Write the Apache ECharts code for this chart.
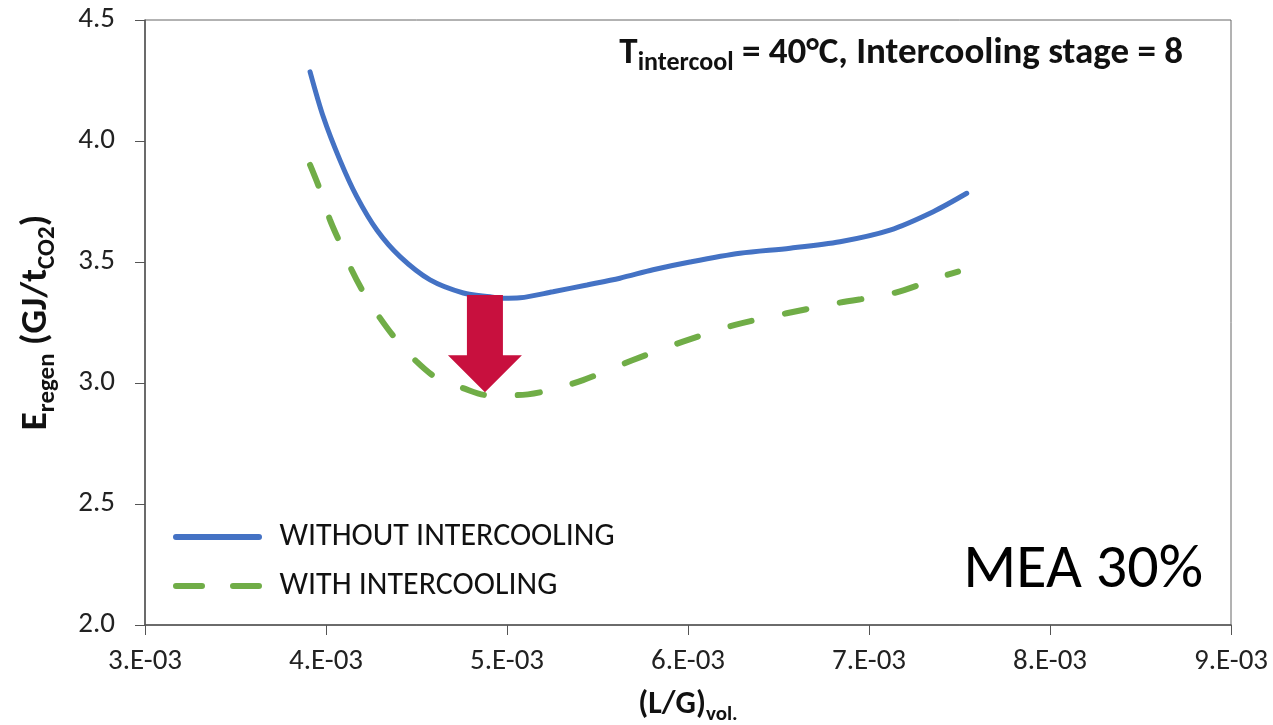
<!doctype html>
<html lang="en">
<head>
    <meta charset="UTF-8">
    <title>MEA 30% - Eregen vs L/G</title>
    <script type="text/javascript" src="https://cdn.jsdelivr.net/npm/echarts@6/dist/echarts.min.js"></script>
    <style>
        html, body { margin: 0; padding: 0; background: #fff; }
        #chart { width: 1273px; height: 725px; }
    </style>
</head>
<body>
<div id="chart"></div>
<script>
    // (L/G)vol. 和 Eregen 读数
    var withoutX = [3.912e-3, 3.985e-3, 4.077e-3, 4.170e-3, 4.281e-3, 4.409e-3, 4.575e-3, 4.759e-3, 4.906e-3, 4.978e-3,
        5.072e-3, 5.254e-3, 5.442e-3, 5.624e-3, 5.807e-3, 6.011e-3, 6.287e-3, 6.564e-3, 6.840e-3, 7.116e-3,
        7.355e-3, 7.540e-3];
    var withoutY = [4.286, 4.100, 3.921, 3.770, 3.632, 3.522, 3.426, 3.372, 3.356, 3.350,
        3.352, 3.377, 3.405, 3.433, 3.468, 3.500, 3.536, 3.557, 3.584, 3.632,
        3.708, 3.784];
    var withX = [3.912e-3, 3.967e-3, 4.022e-3, 4.077e-3, 4.142e-3, 4.215e-3, 4.298e-3, 4.381e-3, 4.501e-3, 4.611e-3,
        4.757e-3, 4.888e-3, 5.054e-3, 5.199e-3, 5.420e-3, 5.696e-3, 5.972e-3, 6.260e-3, 6.545e-3, 6.838e-3,
        7.133e-3, 7.429e-3, 7.492e-3];
    var withY = [3.901, 3.798, 3.674, 3.579, 3.467, 3.364, 3.269, 3.186, 3.088, 3.021,
        2.979, 2.950, 2.950, 2.964, 3.012, 3.095, 3.171, 3.240, 3.288, 3.332,
        3.371, 3.446, 3.460];
    var seriesNames = ['WITHOUT INTERCOOLING', 'WITH INTERCOOLING'];
    // 红色箭头: x, 顶部, 尖端
    var arrowX = [4.878e-3];
    var arrowTop = [3.364];
    var arrowTip = [2.962];

    function pairs(xs, ys) {
        return xs.map(function (x, i) { return [x, ys[i]]; });
    }

    // 图例图标: 实线 / 两段虚线 (圆头)
    var solidIcon = 'path://M3,0h83a3,3 0 0 1 0,6h-83a3,3 0 0 1 0,-6z';
    var dashIcon = 'path://M3,0h26a3,3 0 0 1 0,6h-26a3,3 0 0 1 0,-6z M60,0h26a3,3 0 0 1 0,6h-26a3,3 0 0 1 0,-6z';

    var font = 'Carlito, "Open Sans", sans-serif';
    var chart = echarts.init(document.getElementById('chart'));
    chart.setOption({
        animation: false,
        grid: {
            left: 145, right: 42, top: 20, bottom: 100,
            outerBoundsMode: 'none',
            show: true, borderColor: '#666', borderWidth: 1
        },
        legend: {
            orient: 'vertical',
            left: 168, top: 515,
            itemWidth: 90, itemHeight: 6, itemGap: 15,
            textStyle: { fontFamily: font, fontSize: 32, lineHeight: 34, color: '#111', padding: [0, 0, 0, 12] },
            data: [
                { name: seriesNames[0], icon: solidIcon, itemStyle: { color: '#4472C4' } },
                { name: seriesNames[1], icon: dashIcon, itemStyle: { color: '#70AD47' } }
            ]
        },
        xAxis: {
            type: 'value',
            min: 0.003, max: 0.009, interval: 0.001,
            name: '{b|(L/G)}{s|vol.}',
            nameLocation: 'middle', nameGap: 60,
            nameTextStyle: {
                rich: {
                    b: { fontFamily: font, fontSize: 32, fontWeight: 'bold', color: '#111', lineHeight: 40, verticalAlign: 'middle' },
                    s: { fontFamily: font, fontSize: 21, fontWeight: 'bold', color: '#111', lineHeight: 16, verticalAlign: 'bottom' }
                }
            },
            axisLine: { lineStyle: { color: '#555', width: 1.5 } },
            axisTick: { length: 10, lineStyle: { color: '#555' } },
            splitLine: { show: false },
            axisLabel: {
                margin: 22, fontFamily: font, fontSize: 29, color: '#222',
                formatter: function (v) { return Math.round(v * 1000) + '.E-03'; }
            }
        },
        yAxis: {
            type: 'value',
            min: 2.0, max: 4.5, interval: 0.5,
            name: '{b|E}{s|regen}{b| (GJ/t}{s|CO2}{b|)}',
            nameLocation: 'middle', nameGap: 85, nameRotate: 90,
            nameTextStyle: {
                rich: {
                    b: { fontFamily: font, fontSize: 37, fontWeight: 'bold', color: '#111', lineHeight: 46, verticalAlign: 'middle' },
                    s: { fontFamily: font, fontSize: 25, fontWeight: 'bold', color: '#111', lineHeight: 18, verticalAlign: 'bottom' }
                }
            },
            axisLine: { show: true, lineStyle: { color: '#555', width: 1.5 } },
            axisTick: { show: true, length: 10, lineStyle: { color: '#555' } },
            splitLine: { show: false },
            axisLabel: {
                margin: 30, fontFamily: font, fontSize: 29, color: '#222',
                formatter: function (v) { return v.toFixed(1); }
            }
        },
        graphic: [
            {
                type: 'text', right: 90, top: 35,
                style: {
                    text: '{b|T}{s|intercool}{b| = 40°C, Intercooling stage = 8}',
                    rich: {
                        b: { fontFamily: font, fontSize: 37, fontWeight: 'bold', fill: '#111', lineHeight: 46, verticalAlign: 'middle' },
                        s: { fontFamily: font, fontSize: 26, fontWeight: 'bold', fill: '#111', lineHeight: 18, verticalAlign: 'bottom' }
                    }
                }
            },
            {
                type: 'text', right: 70, top: 540,
                style: { text: 'MEA 30%', fontFamily: font, fontSize: 62, fill: '#000' }
            }
        ],
        series: [
            {
                name: seriesNames[0], type: 'line', smooth: 0.3,
                symbol: 'none', data: pairs(withoutX, withoutY),
                lineStyle: { color: '#4472C4', width: 5, cap: 'round' },
                itemStyle: { color: '#4472C4' },
                z: 3
            },
            {
                name: seriesNames[1], type: 'line', smooth: 0.3,
                symbol: 'none', data: pairs(withX, withY),
                lineStyle: { color: '#70AD47', width: 6, type: [22, 34], cap: 'round' },
                itemStyle: { color: '#70AD47' },
                z: 3
            },
            {
                type: 'custom', name: 'arrow', z: 5,
                data: arrowX.map(function (x, i) { return [x, arrowTop[i], arrowTip[i]]; }),
                renderItem: function (params, api) {
                    var top = api.coord([api.value(0), api.value(1)]);
                    var tip = api.coord([api.value(0), api.value(2)]);
                    var cx = top[0], bw = 18, hw = 37, hh = 37;
                    return {
                        type: 'polygon',
                        shape: {
                            points: [
                                [cx - bw, top[1]], [cx + bw, top[1]], [cx + bw, tip[1] - hh],
                                [cx + hw, tip[1] - hh], [cx, tip[1]], [cx - hw, tip[1] - hh],
                                [cx - bw, tip[1] - hh]
                            ]
                        },
                        style: { fill: '#C8103E' }
                    };
                }
            }
        ]
    });
</script>
</body>
</html>
